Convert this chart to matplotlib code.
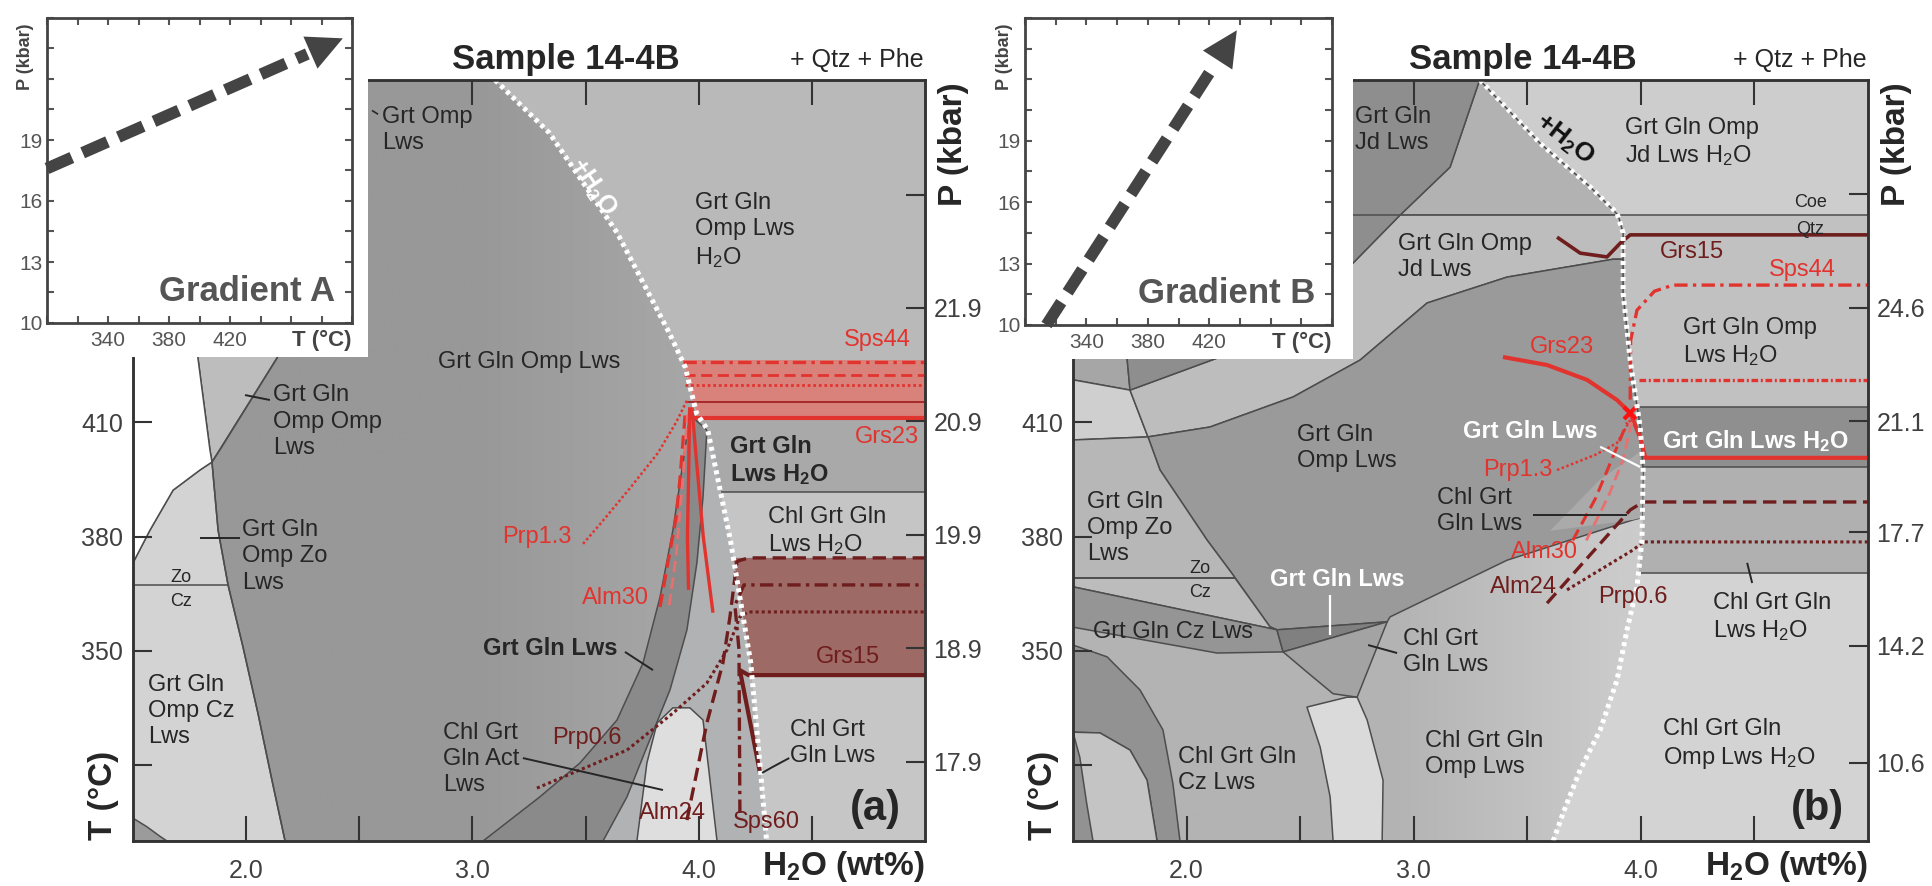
import numpy as np
import matplotlib
matplotlib.use('Agg')
import matplotlib.pyplot as plt
from matplotlib.patches import Polygon, Rectangle
from matplotlib.colors import LinearSegmentedColormap

plt.rcParams['font.family'] = ['Liberation Sans', 'DejaVu Sans']
plt.rcParams['mathtext.default'] = 'regular'

W, H = 1933, 886

# ---- common frame of both sections: x = H2O (wt%), y = T (°C) ----
x_range = (1.5, 5.0)
t_range = (300, 500)
x_ticks = [2.0, 2.5, 3.0, 3.5, 4.0, 4.5]
x_ticklabels = ['2.0', '', '3.0', '', '4.0', '']
t_ticks = [320, 350, 380, 410, 440, 470]
t_ticklabels = ['', '350', '380', '410', '', '']

# pressure read along each gradient (right axis)
a_p_range = (17.2, 23.91)
a_p_ticks = [17.9, 18.9, 19.9, 20.9, 21.9, 22.9]
a_p_ticklabels = ['17.9', '18.9', '19.9', '20.9', '21.9', '']
b_p_range = (8.2, 31.6)
b_p_ticks = [10.6, 14.2, 17.7, 21.1, 24.6, 28.1]
b_p_ticklabels = ['10.6', '14.2', '17.7', '21.1', '24.6', '']

# P-T gradients of the insets (T °C, P kbar)
grad_a = [(300, 17.6), (494, 24.0)]
grad_b = [(314, 10.0), (438, 24.4)]

# ---------------- section (a): gradient A ----------------
a_fluid = [(3.10, 500), (3.34, 486.1), (3.64, 459.8), (3.87, 433.5), (3.94, 424.6),
           (3.99, 412.5), (4.04, 408.0), (4.14, 379.1), (4.23, 346.8), (4.27, 320.5), (4.30, 300)]
a_omp_left = [(2.30, 500), (2.25, 445), (2.136, 426.9), (1.849, 399.6), (1.876, 381.7),
              (1.920, 367.3), (1.986, 351.0), (2.052, 333.6), (2.114, 316.0), (2.172, 300)]
a_omp_omp = [(1.70, 445), (1.787, 426.9), (1.840, 402.8), (1.849, 399.6), (1.884, 402.8),
             (2.136, 426.9), (2.25, 445)]
a_zo_cz = [(1.5, 373.1), (1.575, 381.7), (1.677, 392.2), (1.796, 397.5), (1.849, 399.6),
           (1.876, 381.7), (1.920, 367.3), (1.986, 351.0), (2.052, 333.6), (2.114, 316.0),
           (2.172, 300), (1.5, 300)]
# part of the section left uncalculated
a_blank = [(1.5, 450), (1.5, 373.1), (1.575, 381.7), (1.677, 392.2), (1.796, 397.5),
           (1.849, 399.6), (1.840, 402.8), (1.787, 426.9), (1.77, 450)]
a_corner = [(1.5, 306.0), (1.56, 303.8), (1.62, 301.2), (1.65, 300), (1.5, 300)]
a_zo_line = [(1.5, 367.3), (1.920, 367.3)]
a_lws_left = [(3.047, 300), (3.298, 311.6), (3.475, 320.5), (3.639, 331.8), (3.754, 346.8),
              (3.829, 364.1), (3.886, 381.7), (3.930, 399.3), (3.961, 412.0)]
a_lws_right = [(4.036, 408.0), (4.019, 390.4), (3.992, 373.1), (3.948, 355.5), (3.873, 339.7),
               (3.771, 324.7), (3.683, 311.6), (3.577, 300)]
a_act = [(3.727, 300), (3.771, 320.5), (3.816, 331.0), (3.886, 335.0), (3.961, 335.0),
         (4.019, 331.8), (4.081, 300)]
# fields on the fluid-saturated side: (T low, T high, colour)
a_bands = [(410.6, 426.4, '#d9827b'), (391.7, 410.6, '#a9a9a9'),
           (374.4, 391.7, '#c5c5c5'), (343.6, 374.4, '#9d6a66'), (300, 343.6, '#c6c6c6')]
a_lines = [391.7]

# isopleths (a)
a_sps44 = [(3.93, 426.0), (5.0, 426.0)]
a_red_dash = [(3.935, 422.5), (5.0, 422.5)]
a_red_dot = [(3.94, 419.8), (5.0, 419.8)]
a_red_thin = [(3.95, 415.4), (5.0, 415.4)]
a_grs23 = [(3.96, 411.2), (5.0, 411.2)]
a_prp13 = [(3.489, 378.1), (3.56, 383.0), (3.70, 393.0), (3.82, 402.0), (3.90, 410.0), (3.95, 416.0)]
a_alm30 = [(3.829, 361.5), (3.86, 372), (3.90, 385), (3.917, 395), (3.94, 412)]
a_alm30b = [(3.87, 362), (3.90, 375), (3.93, 395), (3.95, 412)]
a_grs23_dn1 = [(3.96, 414), (3.955, 395), (3.95, 380), (3.955, 366)]
a_grs23_dn2 = [(3.97, 414), (3.99, 400), (4.02, 380), (4.063, 360)]
a_prp06 = [(3.285, 313.9), (3.444, 317.9), (3.683, 323.9), (3.886, 333.6), (4.036, 341.5),
           (4.125, 350.2), (4.182, 358.9), (4.22, 360.2), (5.0, 360.2)]
a_alm24 = [(3.948, 305.5), (4.036, 331.0), (4.107, 346.8), (4.138, 358.9), (4.169, 373.5),
           (4.22, 374.4), (5.0, 374.4)]
a_sps60 = [(4.182, 307.4), (4.178, 350.2), (4.16, 362), (4.20, 367.3), (5.0, 367.3)]
a_grs15 = [(4.271, 317.9), (4.182, 344.9), (4.22, 343.6), (5.0, 343.6)]

# ---------------- section (b): gradient B ----------------
b_fluid = [(3.292, 500), (3.556, 483.4), (3.777, 471.9), (3.895, 465.0), (3.922, 459.8),
           (3.922, 444.0), (3.953, 426.4), (3.997, 408.8), (4.010, 397.5), (4.005, 379.1),
           (3.983, 366.8), (3.939, 355.5), (3.895, 342.3), (3.821, 329.2), (3.733, 318.7),
           (3.658, 307.4), (3.614, 300)]
b_jd_dark = [(1.738, 500), (3.29, 500), (3.160, 477.1), (2.940, 464.5), (2.733, 451.9),
             (2.40, 438), (2.134, 426.9), (1.751, 418.5), (1.738, 426.9)]
b_left_mid = [(1.5, 500), (1.738, 500), (1.738, 426.9), (1.751, 418.5), (1.5, 421.2)]
b_left_light = [(1.5, 421.2), (1.751, 418.5), (1.830, 406.2), (1.5, 405.4)]
b_jd_upper = [(3.29, 500), (3.160, 477.1), (2.940, 464.5), (3.90, 464.5), (3.777, 471.9), (3.556, 483.4)]
b_jd_band = [(1.751, 418.5), (2.134, 426.9), (2.40, 438), (2.733, 451.9), (2.940, 464.5),
             (3.90, 464.5), (3.922, 459.8), (3.922, 452.9), (3.878, 452.9), (3.411, 448.2),
             (3.059, 441.4), (2.764, 426.4), (2.469, 416.7), (2.103, 408.8), (1.830, 406.2)]
b_omp_dark = [(1.830, 406.2), (2.103, 408.8), (2.469, 416.7), (2.764, 426.4), (3.059, 441.4),
              (3.411, 448.2), (3.878, 452.9), (3.922, 452.9), (3.922, 444.0), (3.953, 426.4),
              (3.997, 408.8), (4.010, 397.5), (4.006, 385.0), (3.966, 384.4), (3.411, 373.8),
              (2.896, 358.9), (2.883, 357.6), (2.398, 355.5), (2.367, 356.3), (2.293, 362.5),
              (2.205, 369.9), (2.090, 379.1), (1.971, 389.7), (1.883, 397.5)]
b_zo = [(1.5, 405.4), (1.830, 406.2), (1.883, 397.5), (1.971, 389.7), (2.090, 379.1),
        (2.205, 369.9), (2.213, 369.1), (1.5, 369.1)]
b_cz = [(1.5, 369.1), (2.213, 369.1), (2.293, 362.5), (2.367, 356.3), (2.398, 355.5), (1.5, 366.8)]
b_cz_band = [(1.5, 366.8), (2.398, 355.5), (2.425, 349.7), (2.134, 349.4), (1.5, 356.2)]
b_gln_lws = [(2.398, 355.5), (2.883, 357.6), (2.425, 349.7)]
b_chl_lws = [(2.425, 349.7), (2.883, 357.6), (2.751, 337.8), (2.645, 338.7), (2.530, 344.4)]
b_strip = [(2.530, 335.2), (2.707, 337.8), (2.751, 337.8), (2.795, 331.8), (2.865, 316.0),
           (2.861, 300), (2.645, 300), (2.632, 311.6), (2.588, 324.7)]
b_lband = [(1.5, 351.5), (1.650, 348.4), (1.795, 339.7), (1.896, 329.2), (1.94, 315), (1.971, 300),
           (1.870, 300), (1.826, 316.0), (1.751, 323.9), (1.619, 328.4), (1.5, 328.6)]
b_inner = [(1.5, 328.6), (1.619, 328.4), (1.751, 323.9), (1.826, 316.0), (1.870, 300), (1.5, 300)]
b_edge = [(1.5, 328.6), (1.53, 322), (1.56, 310), (1.588, 300), (1.5, 300)]
b_chl_upper = [(3.60, 381.5), (3.82, 395.0), (3.99, 402), (4.008, 397), (4.006, 385.0), (3.966, 384.4)]
b_zo_line = [(1.5, 369.1), (2.213, 369.1)]
b_coe_line = [(2.70, 464.5), (2.94, 464.5)]
b_bands = [(464.5, 500, '#cdcdcd'), (414.1, 464.5, '#c1c1c1'),
           (398.3, 414.1, '#8f8f8f'), (370.4, 398.3, '#b0b0b0')]
b_lines = [464.5, 414.1, 398.3, 370.4]

# isopleths (b)
b_grs15 = [(3.631, 458.7), (3.733, 454.5), (3.851, 453.5), (3.909, 457.1), (3.953, 459.3), (5.0, 459.3)]
b_sps44 = [(3.953, 416), (3.955, 431.6), (3.983, 439.5), (4.06, 444.5), (4.142, 446.1), (5.0, 446.1)]
b_red_dense = [(3.99, 421.2), (5.0, 421.2)]
b_grs23 = [(3.393, 427.2), (3.587, 425.1), (3.763, 421.2), (3.895, 415.9), (3.953, 412.5),
           (3.997, 406), (4.02, 400.7), (5.0, 400.7)]
b_prp13 = [(3.631, 397.5), (3.80, 401.5), (3.895, 404.6), (3.953, 410.6)]
b_alm30 = [(3.70, 379), (3.80, 390), (3.87, 400), (3.94, 410)]
b_alm30b = [(3.76, 379), (3.86, 391), (3.92, 400), (3.96, 410)]
b_alm24 = [(3.587, 362.5), (3.953, 387.0), (4.01, 389.1), (5.0, 389.1)]
b_prp06 = [(3.675, 366.0), (3.966, 376.5), (4.01, 378.6), (5.0, 378.6)]

RED = '#e2342f'
DRED = '#6f1d1d'
TXT = '#262626'
EDGE = '#4d4d4d'
DASHDOT = (0, (4, 1.6, 1, 1.6))
DASHED = (0, (4, 2))
DOTTED = (0, (1, 1))


def field(ax, pts, color, edge=EDGE, lw=1.1, z=1):
    p = Polygon(pts, closed=True, fc=color, ec=edge if edge else 'none',
                lw=lw, zorder=z, joinstyle='round')
    ax.add_patch(p)
    return p


def shaded(ax, pts, c0, c1, x0, x1):
    # field whose grey lightens from x0 to x1
    p = field(ax, pts, 'none', edge=None)
    cmap = LinearSegmentedColormap.from_list('g', [c0, c1])
    xs = np.linspace(*x_range, 300)
    g = np.clip((xs - x0) / (x1 - x0), 0, 1)[None, :]
    im = ax.imshow(g, cmap=cmap, vmin=0, vmax=1, aspect='auto', origin='lower',
                   extent=(*x_range, *t_range), zorder=1, interpolation='bilinear')
    im.set_clip_path(p)


def fluid_x(fluid, t):
    f = np.array(fluid)
    return np.interp(t, f[::-1, 1], f[::-1, 0])


def band(ax, fluid, lo, hi, color):
    inner = [p for p in fluid if lo < p[1] < hi]
    pts = [(fluid_x(fluid, hi), hi)] + inner + [(fluid_x(fluid, lo), lo), (5.0, lo), (5.0, hi)]
    field(ax, pts, color, edge=None)


def line(ax, pts, color=EDGE, ls='-', lw=1.1, z=2):
    xs, ys = zip(*pts)
    ax.plot(xs, ys, color=color, ls=ls, lw=lw, zorder=z,
            dash_capstyle='butt', solid_capstyle='butt')


def lab(ax, x, y, s, size=17, color=TXT, ha='left', **kw):
    ax.text(x, y, s, fontsize=size, color=color, ha=ha, va='center',
            linespacing=1.25, zorder=6, **kw)


def frame(ax, p_range, p_ticks, p_labels, tag):
    ax.set_xlim(*x_range)
    ax.set_ylim(*t_range)
    ax.set_facecolor('white')
    ax.set_xticks(x_ticks)
    ax.set_xticklabels(x_ticklabels)
    ax.set_yticks(t_ticks)
    ax.set_yticklabels(t_ticklabels)
    ax.tick_params(axis='x', direction='in', top=True, length=18, width=1.5, color='#333',
                   labelsize=18, labelcolor='#404040', pad=13)
    ax.tick_params(axis='y', direction='in', length=14, width=1.5, color='#333',
                   labelsize=18, labelcolor='#404040', pad=7)
    for s in ax.spines.values():
        s.set_linewidth(1.8)
        s.set_color('#333')
    axr = ax.twinx()
    axr.set_ylim(*p_range)
    axr.set_yticks(p_ticks)
    axr.set_yticklabels(p_labels)
    axr.tick_params(axis='y', direction='in', length=14, width=1.5, color='#333',
                    labelsize=18, labelcolor='#404040', pad=6)
    for s in axr.spines.values():
        s.set_linewidth(1.8)
        s.set_color('#333')
    ax.text(1.0, -0.033, 'H$_2$O (wt%)', transform=ax.transAxes, ha='right', va='center',
            fontsize=24, fontweight='bold', color=TXT)
    ax.text(-0.037, 0.06, 'T (°C)', transform=ax.transAxes, ha='center', va='center',
            rotation=90, fontsize=24, fontweight='bold', color=TXT)
    ax.text(1.036, 0.915, 'P (kbar)', transform=ax.transAxes, ha='center', va='center',
            rotation=90, fontsize=24, fontweight='bold', color=TXT)
    ax.text(0.998, 1.026, '+ Qtz + Phe', transform=ax.transAxes, ha='right', va='center',
            fontsize=18, color=TXT)
    ax.text(0.97, 0.042, tag, transform=ax.transAxes, ha='right', va='center',
            fontsize=30, fontweight='bold', color=TXT, zorder=6)


def fluid_line(ax, fluid):
    line(ax, fluid, color='white', ls=(0, (0.8, 0.8)), lw=3.6, z=4)


def section_a(ax):
    shaded(ax, a_omp_left + a_fluid[::-1], '#989898', '#a6a6a6', 3.0, 3.9)
    line(ax, a_omp_left)
    field(ax, a_fluid + [(5.0, 300), (5.0, 500)], '#b9b9b9', edge=None)
    field(ax, a_omp_omp, '#bdbdbd')
    field(ax, a_zo_cz, '#d3d3d3')
    field(ax, a_blank, 'white')
    field(ax, a_corner, '#9b9b9b')
    line(ax, a_zo_line)
    sliver = a_lws_right + [(4.30, 300)] + [p for p in a_fluid[::-1] if p[1] <= 408]
    field(ax, sliver, '#b0b2b4', edge=None)
    field(ax, a_lws_left + a_lws_right, '#8a8a8a')
    field(ax, a_act, '#dedede')
    for lo, hi, c in a_bands:
        band(ax, a_fluid, lo, hi, c)
    for t in a_lines:
        line(ax, [(fluid_x(a_fluid, t), t), (5.0, t)])

    line(ax, a_sps44, RED, DASHDOT, 2.4, 3)
    line(ax, a_red_dash, RED, DASHED, 2.0, 3)
    line(ax, a_red_dot, RED, DOTTED, 2.0, 3)
    line(ax, a_red_thin, '#a52a2a', '-', 1.4, 3)
    line(ax, a_grs23, RED, '-', 3.0, 3)
    line(ax, a_prp13, RED, DOTTED, 1.8, 3)
    line(ax, a_alm30, RED, DASHED, 2.4, 3)
    line(ax, a_alm30b, '#e87070', DASHED, 2.0, 3)
    line(ax, a_grs23_dn1, RED, '-', 2.4, 3)
    line(ax, a_grs23_dn2, RED, '-', 2.4, 3)
    line(ax, a_prp06, DRED, DOTTED, 2.2, 3)
    line(ax, a_alm24, DRED, DASHED, 2.4, 3)
    line(ax, a_sps60, DRED, DASHDOT, 2.4, 3)
    line(ax, a_grs15, DRED, '-', 3.0, 3)
    fluid_line(ax, a_fluid)

    lab(ax, 2.60, 486.9, 'Grt Omp\nLws')
    line(ax, [(2.556, 492.0), (2.583, 491.0)], TXT, '-', 1.2, 5)
    lab(ax, 2.119, 410.2, 'Grt Gln\nOmp Omp\nLws')
    line(ax, [(1.995, 417.2), (2.105, 415.9)], TXT, '-', 1.4, 5)
    lab(ax, 3.25, 425.9, 'Grt Gln Omp Lws', ha='center')
    ax.text(3.533, 471.9, '+H$_2$O', fontsize=18, fontweight='bold', color='white',
            rotation=-56, rotation_mode='anchor', ha='center', va='center', zorder=6)
    lab(ax, 3.983, 460.4, 'Grt Gln\nOmp Lws\nH$_2$O')
    lab(ax, 4.79, 431.6, 'Sps44', color=RED, ha='center')
    lab(ax, 4.83, 406.2, 'Grs23', color=RED, ha='center')
    lab(ax, 4.138, 399.9, 'Grt Gln\nLws H$_2$O', fontweight='bold')
    lab(ax, 4.306, 381.3, 'Chl Grt Gln\nLws H$_2$O')
    lab(ax, 4.66, 348.4, 'Grs15', color=DRED, ha='center')
    lab(ax, 4.403, 325.8, 'Chl Grt\nGln Lws')
    line(ax, [(4.280, 317.9), (4.328, 319.5), (4.40, 321.8)], TXT, '-', 1.4, 5)
    lab(ax, 3.285, 379.9, 'Prp1.3', color=RED, ha='center')
    lab(ax, 3.630, 363.9, 'Alm30', color=RED, ha='center')
    lab(ax, 3.343, 350.7, 'Grt Gln Lws', ha='center', fontweight='bold')
    line(ax, [(3.674, 349.7), (3.798, 344.9)], TXT, '-', 1.4, 5)
    lab(ax, 3.506, 327.1, 'Prp0.6', color=DRED, ha='center')
    lab(ax, 2.870, 321.6, 'Chl Grt\nGln Act\nLws')
    line(ax, [(3.223, 321.8), (3.842, 313.4)], TXT, '-', 1.4, 5)
    lab(ax, 3.886, 307.4, 'Alm24', color=DRED, ha='center')
    lab(ax, 4.297, 305.0, 'Sps60', color=DRED, ha='center')
    lab(ax, 1.712, 369.3, 'Zo', size=13, ha='center')
    lab(ax, 1.712, 363.0, 'Cz', size=13, ha='center')
    lab(ax, 1.982, 374.8, 'Grt Gln\nOmp Zo\nLws')
    line(ax, [(1.796, 379.6), (1.975, 379.6)], TXT, '-', 1.4, 5)
    lab(ax, 1.566, 334.1, 'Grt Gln\nOmp Cz\nLws')


def section_b(ax):
    shaded(ax, [(1.5, 300), (1.5, 500)] + b_fluid, '#b3b3b3', '#cbcbcb', 2.9, 3.9)
    field(ax, b_fluid + [(5.0, 300), (5.0, 500)], '#d3d3d3', edge=None)
    for lo, hi, c in b_bands:
        band(ax, b_fluid, lo, hi, c)
    field(ax, b_left_mid, '#a6a6a6')
    field(ax, b_left_light, '#cfcfcf')
    field(ax, b_jd_upper, '#b2b2b2')
    field(ax, b_jd_band, '#bdbdbd')
    field(ax, b_jd_dark, '#8e8e8e')
    field(ax, b_omp_dark, '#9a9a9a')
    field(ax, b_chl_upper, '#aaaaaa', edge=None)
    field(ax, b_zo, '#b7b7b7')
    field(ax, b_cz, '#bcbcbc')
    field(ax, b_cz_band, '#959595')
    field(ax, b_gln_lws, '#808080')
    field(ax, b_chl_lws, '#a3a3a3')
    field(ax, b_strip, '#dadada')
    field(ax, b_lband, '#929292')
    field(ax, b_inner, '#c4c4c4')
    field(ax, b_edge, '#929292')
    line(ax, b_zo_line)
    line(ax, b_coe_line)
    for t in b_lines:
        line(ax, [(fluid_x(b_fluid, t), t), (5.0, t)])

    line(ax, b_grs15, DRED, '-', 2.6, 3)
    line(ax, b_sps44, RED, DASHDOT, 2.4, 3)
    line(ax, b_red_dense, RED, (0, (2, 0.8, 0.6, 0.8)), 2.4, 3)
    line(ax, b_grs23, RED, '-', 3.0, 3)
    line(ax, b_prp13, RED, DOTTED, 1.8, 3)
    line(ax, b_alm30, RED, DASHED, 2.2, 3)
    line(ax, b_alm30b, '#e87070', DASHED, 2.0, 3)
    line(ax, b_alm24, DRED, DASHED, 2.4, 3)
    line(ax, b_prp06, DRED, DOTTED, 2.2, 3)
    ax.plot(3.953, 412.5, marker='x', ms=9, mew=3, color='#ff1010', zorder=3)
    fluid_line(ax, b_fluid)

    lab(ax, 2.742, 486.9, 'Grt Gln\nJd Lws')
    lab(ax, 2.931, 453.5, 'Grt Gln Omp\nJd Lws')
    ax.text(3.666, 484.4, '+H$_2$O', fontsize=19, fontweight='bold', color='#111',
            rotation=-38, rotation_mode='anchor', ha='center', va='center', zorder=6)
    lab(ax, 3.931, 483.6, 'Grt Gln Omp\nJd Lws H$_2$O')
    lab(ax, 4.745, 467.7, 'Coe', size=13, ha='center')
    lab(ax, 4.745, 460.6, 'Qtz', size=13, ha='center')
    lab(ax, 4.226, 454.8, 'Grs15', color=DRED, ha='center')
    lab(ax, 4.710, 450.1, 'Sps44', color=RED, ha='center')
    lab(ax, 3.653, 429.8, 'Grs23', color=RED, ha='center')
    lab(ax, 4.186, 431.0, 'Grt Gln Omp\nLws H$_2$O')
    lab(ax, 2.486, 403.3, 'Grt Gln\nOmp Lws')
    lab(ax, 3.217, 407.5, 'Grt Gln Lws', color='white', fontweight='bold')
    line(ax, [(3.821, 403.6), (3.997, 398.3)], 'white', '-', 1.6, 5)
    lab(ax, 4.094, 405.0, 'Grt Gln Lws H$_2$O', color='white', fontweight='bold')
    lab(ax, 3.459, 397.5, 'Prp1.3', color=RED, ha='center')
    lab(ax, 3.103, 386.7, 'Chl Grt\nGln Lws')
    line(ax, [(3.526, 385.7), (3.939, 385.7)], TXT, '-', 1.4, 5)
    lab(ax, 3.574, 376.0, 'Alm30', color=RED, ha='center')
    lab(ax, 3.481, 366.8, 'Alm24', color=DRED, ha='center')
    lab(ax, 3.966, 364.1, 'Prp0.6', color=DRED, ha='center')
    lab(ax, 4.318, 358.7, 'Chl Grt Gln\nLws H$_2$O')
    line(ax, [(4.468, 373.1), (4.490, 367.8)], TXT, '-', 1.4, 5)
    lab(ax, 4.098, 325.3, 'Chl Grt Gln\nOmp Lws H$_2$O')
    lab(ax, 3.05, 322.8, 'Chl Grt Gln\nOmp Lws')
    lab(ax, 2.953, 349.6, 'Chl Grt\nGln Lws')
    line(ax, [(2.799, 351.5), (2.927, 349.4)], TXT, '-', 1.4, 5)
    lab(ax, 1.588, 354.9, 'Grt Gln Cz Lws')
    lab(ax, 2.367, 368.6, 'Grt Gln Lws', color='white', fontweight='bold')
    line(ax, [(2.632, 364.7), (2.632, 354.1)], 'white', '-', 1.6, 5)
    lab(ax, 1.562, 382.3, 'Grt Gln\nOmp Zo\nLws')
    lab(ax, 2.059, 371.7, 'Zo', size=13, ha='center')
    lab(ax, 2.059, 365.4, 'Cz', size=13, ha='center')
    lab(ax, 1.962, 318.7, 'Chl Grt Gln\nCz Lws')


def inset(rect, white, grad, name, plabel_x):
    fig.add_artist(Rectangle((white[0] / W, 1 - white[3] / H), (white[2] - white[0]) / W,
                             white[3] / H, transform=fig.transFigure, fc='white', ec='none',
                             zorder=1))
    ax = fig.add_axes([rect[0] / W, 1 - rect[3] / H, (rect[2] - rect[0]) / W, (rect[3] - rect[1]) / H])
    ax.set_zorder(3)
    ax.set_xlim(300, 500)
    ax.set_ylim(10, 25)
    xt = np.arange(300, 501, 20)
    ax.set_xticks(xt)
    ax.set_xticklabels([str(v) if v in (340, 380, 420) else '' for v in xt])
    yt = np.arange(10, 25.1, 1.5)
    ax.set_yticks(yt)
    ax.set_yticklabels([('%d' % v) if v in (10, 13, 16, 19) else '' for v in yt])
    ax.tick_params(direction='in', top=True, right=True, length=5, width=1.5, color='#555',
                   labelsize=15, labelcolor='#555', pad=3)
    ax.tick_params(axis='x', pad=6)
    for s in ax.spines.values():
        s.set_linewidth(2)
        s.set_color('#444')
    (t0, p0), (t1, p1) = grad
    f = 0.88
    ax.plot([t0, t0 + f * (t1 - t0)], [p0, p0 + f * (p1 - p0)], color='#444', lw=8.5,
            ls=(0, (2.3, 1.0)), dash_capstyle='butt', zorder=3, clip_on=False)
    ax.annotate('', xy=(t1, p1), xytext=(t0 + 0.8 * (t1 - t0), p0 + 0.8 * (p1 - p0)),
                arrowprops=dict(arrowstyle='-|>,head_length=0.85,head_width=0.42',
                                mutation_scale=30, lw=0, color='#444',
                                shrinkA=0, shrinkB=0), zorder=3)
    ax.text(489, 11.55, name, ha='right', va='center', fontsize=25, fontweight='bold',
            color='#555')
    ax.text(480, -0.056, 'T (°C)', transform=ax.get_xaxis_transform(), ha='center',
            va='center', fontsize=16, fontweight='bold', color='#444')
    fig.text(plabel_x / W, 1 - 57 / H, 'P (kbar)', rotation=90, ha='center', va='center',
             fontsize=13, fontweight='bold', color='#444', zorder=4)


fig = plt.figure(figsize=(W / 100, H / 100), dpi=100)
ax_a = fig.add_axes([133 / W, 45 / H, 792 / W, 761 / H])
ax_b = fig.add_axes([1073 / W, 45 / H, 795 / W, 761 / H])

section_a(ax_a)
frame(ax_a, a_p_range, a_p_ticks, a_p_ticklabels, '(a)')
section_b(ax_b)
frame(ax_b, b_p_range, b_p_ticks, b_p_ticklabels, '(b)')

fig.text(566 / W, 1 - 60 / H, 'Sample 14-4B', ha='center', va='center', fontsize=25,
         fontweight='bold', color=TXT)
fig.text(1523 / W, 1 - 60 / H, 'Sample 14-4B', ha='center', va='center', fontsize=25,
         fontweight='bold', color=TXT)

inset((47, 18, 352, 323), (0, 0, 368, 357), grad_a, 'Gradient A', 26)
inset((1025, 18, 1332, 325), (1000, 0, 1353, 359), grad_b, 'Gradient B', 1005)

fig.savefig('out.png', dpi=100)
